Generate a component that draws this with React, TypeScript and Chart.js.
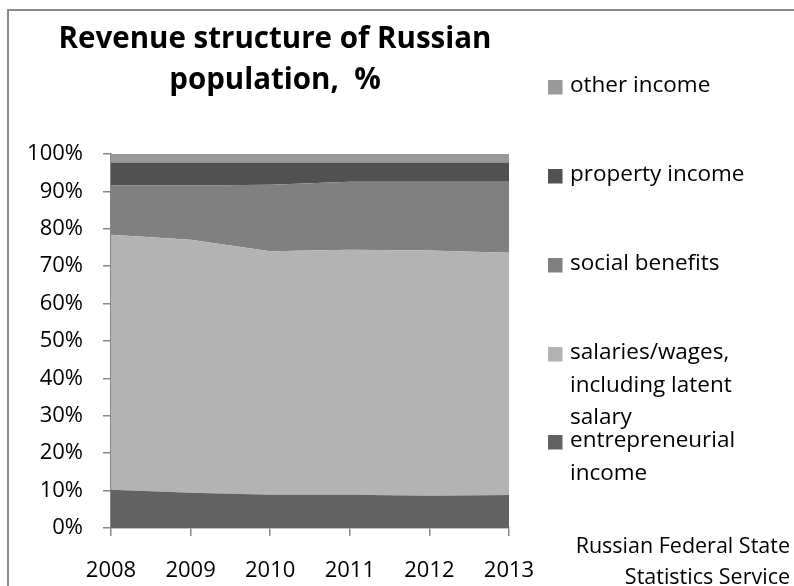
import React, { useEffect, useRef } from "react";
import { Chart, registerables } from "chart.js";

Chart.register(...registerables);

// ---- Data ----
const years = ["2008", "2009", "2010", "2011", "2012", "2013"];
const entrepreneurialIncome = [10.2, 9.4, 8.9, 8.9, 8.6, 8.8];
const salariesWages = [68.2, 67.7, 65.1, 65.5, 65.6, 64.8];
const socialBenefits = [13.2, 14.5, 17.8, 18.2, 18.4, 19.0];
const propertyIncome = [6.1, 6.1, 5.9, 5.1, 5.1, 5.1];
const otherIncome = [2.3, 2.3, 2.3, 2.3, 2.3, 2.3];

const yTickLabels = ["0%", "10%", "20%", "30%", "40%", "50%", "60%", "70%", "80%", "90%", "100%"];

const titleLines = ["Revenue structure of Russian", "population,  %"];
const sourceLines = ["Russian Federal State", "Statistics Service"];

// legend lines per series (top-to-bottom legend order)
const legendEntrepreneurial = ["entrepreneurial", "income"];
const legendSalaries = ["salaries/wages,", "including latent", "salary"];
const legendSocial = ["social benefits"];
const legendProperty = ["property income"];
const legendOther = ["other income"];

const FONT = "'Open Sans', 'Noto Sans', sans-serif";

const decorPlugin = {
  id: "decor",
  beforeDraw(chart: any) {
    const ctx = chart.ctx;
    ctx.save();
    ctx.fillStyle = "#ffffff";
    ctx.fillRect(0, 0, chart.width, chart.height);
    ctx.strokeStyle = "#8a8a8a";
    ctx.lineWidth = 2;
    ctx.strokeRect(8, 10, 1200, 1200);
    ctx.restore();
  },
  afterDraw(chart: any) {
    const ctx = chart.ctx;
    ctx.save();
    // Title
    ctx.fillStyle = "#000000";
    ctx.font = `bold 29.5px ${FONT}`;
    ctx.textAlign = "center";
    ctx.textBaseline = "alphabetic";
    const titleBase = [48, 89];
    titleLines.forEach((t, i) => ctx.fillText(t, 275, titleBase[i]));

    // Legend
    const items = [
      { ds: 4, lines: legendOther, y: 87 },
      { ds: 3, lines: legendProperty, y: 176 },
      { ds: 2, lines: legendSocial, y: 265 },
      { ds: 1, lines: legendSalaries, y: 354 },
      { ds: 0, lines: legendEntrepreneurial, y: 442 },
    ];
    ctx.font = `22.5px ${FONT}`;
    ctx.textAlign = "left";
    ctx.textBaseline = "middle";
    items.forEach((it) => {
      const color = chart.data.datasets[it.ds].backgroundColor;
      ctx.fillStyle = color;
      ctx.fillRect(548, it.y - 7, 14.5, 14.5);
      ctx.fillStyle = "#000000";
      it.lines.forEach((l: string, j: number) => {
        ctx.fillText(l, 570, it.y - 1 + j * 32.5);
      });
    });

    // Source
    ctx.font = `21.5px ${FONT}`;
    ctx.textAlign = "right";
    const srcY = [547, 578];
    sourceLines.forEach((s, i) => ctx.fillText(s, 790, srcY[i]));
    ctx.restore();
  },
};

export default function App() {
  const ref = useRef<HTMLCanvasElement | null>(null);

  useEffect(() => {
    document.body.style.margin = "0";
    if (!ref.current) return;
    const mk = (label: string, data: number[], color: string, fill: any) => ({
      label,
      data,
      backgroundColor: color,
      borderColor: color,
      borderWidth: 0,
      pointRadius: 0,
      fill,
      tension: 0,
    });
    const chart = new Chart(ref.current, {
      type: "line",
      data: {
        labels: years,
        datasets: [
          mk("entrepreneurial income", entrepreneurialIncome, "#626262", "origin"),
          mk("salaries/wages, including latent salary", salariesWages, "#b3b3b3", "-1"),
          mk("social benefits", socialBenefits, "#808080", "-1"),
          mk("property income", propertyIncome, "#515151", "-1"),
          mk("other income", otherIncome, "#999999", "-1"),
        ],
      },
      options: {
        animation: false,
        responsive: true,
        maintainAspectRatio: false,
        devicePixelRatio: 1,
        layout: { padding: { top: 154, right: 285, left: 0, bottom: 0 } },
        plugins: {
          legend: { display: false },
          title: { display: false },
          tooltip: { enabled: false },
        },
        scales: {
          x: {
            type: "category",
            offset: false,
            grid: {
              drawOnChartArea: false,
              drawTicks: true,
              tickLength: 8,
              color: "#868686",
              lineWidth: 1.5,
            },
            border: { color: "#868686", width: 1.5 },
            ticks: {
              color: "#000000",
              font: { family: FONT, size: 22 },
              padding: 22,
              maxRotation: 0,
            },
            afterFit: (s: any) => {
              s.height = 58;
            },
          },
          y: {
            stacked: true,
            min: 0,
            max: 100,
            grid: {
              drawOnChartArea: false,
              drawTicks: true,
              tickLength: 8,
              color: "#868686",
              lineWidth: 1.5,
            },
            border: { color: "#868686", width: 1.5 },
            ticks: {
              stepSize: 10,
              color: "#000000",
              font: { family: FONT, size: 22 },
              padding: 20,
              callback: (_v: any, i: number) => yTickLabels[i],
            },
            afterFit: (s: any) => {
              s.width = 111;
            },
          },
        },
      },
      plugins: [decorPlugin],
    });
    return () => chart.destroy();
  }, []);

  return (
    <div style={{ position: "relative", width: 794, height: 586 }}>
      <canvas ref={ref} />
    </div>
  );
}
